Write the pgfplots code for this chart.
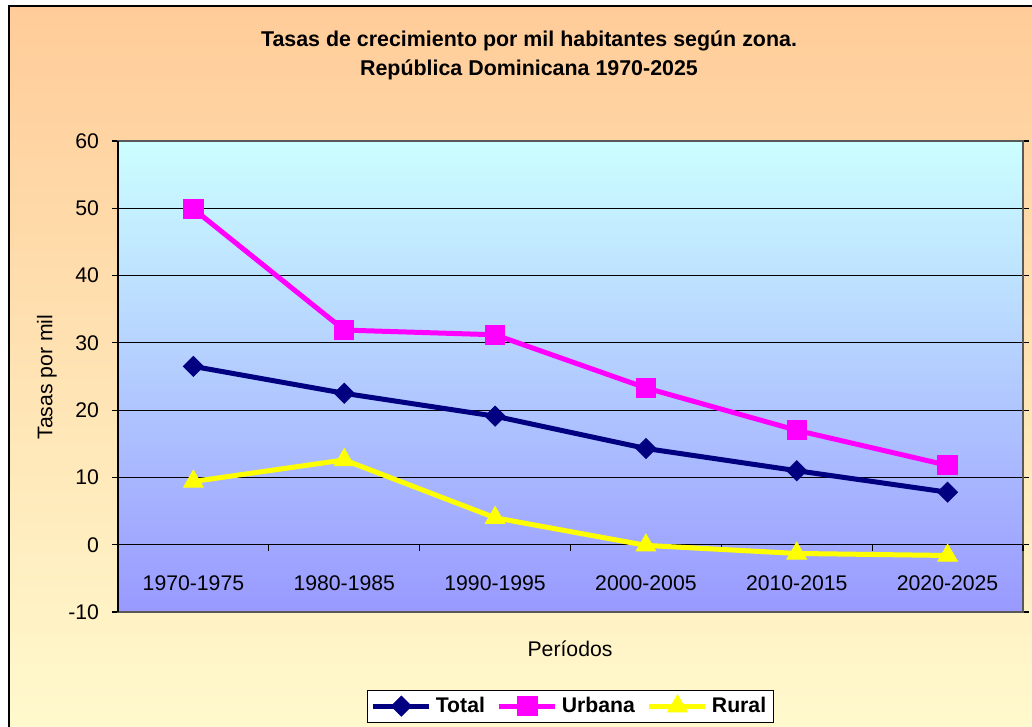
\documentclass[border=0pt]{standalone}
\usepackage{pgfplots}
\pgfplotsset{compat=1.18}
\usepackage{fontspec}
\setmainfont{Liberation Sans}

\definecolor{chartTop}{HTML}{FFCC99}
\definecolor{chartBot}{HTML}{FFFBCF}
\definecolor{plotTop}{HTML}{CCFFFF}
\definecolor{plotBot}{HTML}{9999FF}
\definecolor{total}{HTML}{000080}
\definecolor{urbana}{HTML}{FF00FF}
\definecolor{rural}{HTML}{FFFF00}

\begin{document}
\begin{tikzpicture}
\useasboundingbox (-59pt,-57.5pt) rectangle (457pt,306pt);
\begin{scope}
\clip (-59pt,-57.5pt) rectangle (457pt,306pt);
\shade[top color=chartTop, bottom color=chartBot] (-54.5pt,-70pt) rectangle (470pt,303pt);
\draw[black, line width=0.8pt] (-54.5pt,-70pt) rectangle (470pt,303pt);
\end{scope}

\begin{axis}[
    at={(0,0)}, anchor=south west,
    scale only axis,
    width=452.5pt, height=235.5pt,
    xmin=-0.5, xmax=5.5,
    ymin=-10, ymax=60,
    ytick={-10,0,...,60},
    xtick={0,...,5},
    xticklabels={1970-1975,1980-1985,1990-1995,2000-2005,2010-2015,2020-2025},
    xtick style={draw=none},
    ytick style={black, line width=0.6pt},
    tick align=outside,
    major tick length=3pt,
    ymajorgrids,
    grid style={black, line width=0.5pt},
    axis line style={gray!70!black, line width=1pt},
    axis background/.style={shade, top color=plotTop, bottom color=plotBot},
    tick label style={font=\fontsize{10.6}{12}\selectfont},
    /pgf/number format/assume math mode=true,
    xticklabel style={anchor=center, yshift=17.5pt},
    yticklabel style={xshift=-3pt},
    legend style={at={(0.5,-0.2)}, anchor=center, draw=black, fill=white,
        font=\fontsize{10.6}{12}\selectfont\bfseries, legend columns=3,
        inner sep=1.5pt, /tikz/every even column/.append style={column sep=4pt}},
    legend image code/.code={
        \draw[mark repeat=2, mark phase=2] plot coordinates {(0pt,0pt) (14pt,0pt) (28pt,0pt)};
    },
    clip=false,
]
\draw[black, line width=0.6pt] (axis cs:-0.5,0) -- (axis cs:5.5,0);
\pgfplotsinvokeforeach{0.5,1.5,2.5,3.5,4.5,5.5}{
    \draw[black, line width=0.6pt] (axis cs:#1,0) -- (axis cs:#1,-0.9);
}
\draw[black, line width=0.8pt] (axis cs:-0.5,-10) -- (axis cs:-0.5,60);

\addplot[total, line width=2.5pt, mark=square*, mark size=3.5pt,
    mark options={solid, rotate=45, line width=0.5pt}] coordinates {
    (0,26.5) (1,22.5) (2,19.1) (3,14.3) (4,11.0) (5,7.8)
};
\addplot[urbana, line width=2.5pt, mark=square*, mark size=4.8pt,
    mark options={solid, line width=0.5pt}] coordinates {
    (0,49.9) (1,31.9) (2,31.2) (3,23.3) (4,17.0) (5,11.8)
};
\addplot[rural, line width=2.5pt, mark=triangle*, mark size=5.6pt,
    mark options={solid, line width=0.5pt}] coordinates {
    (0,9.4) (1,12.6) (2,4.0) (3,-0.1) (4,-1.3) (5,-1.6)
};
\legend{Total, Urbana, Rural}
\end{axis}

\node[font=\fontsize{10.7}{14.5}\selectfont\bfseries, align=center] at (205.5pt,278.5pt)
    {Tasas de crecimiento por mil habitantes según zona.\\República Dominicana 1970-2025};
\node[font=\fontsize{10.6}{12}\selectfont, rotate=90] at (-35.5pt,117.5pt) {Tasas por mil};
\node[font=\fontsize{10.6}{12}\selectfont] at (226pt,-18.5pt) {Períodos};
\end{tikzpicture}
\end{document}
